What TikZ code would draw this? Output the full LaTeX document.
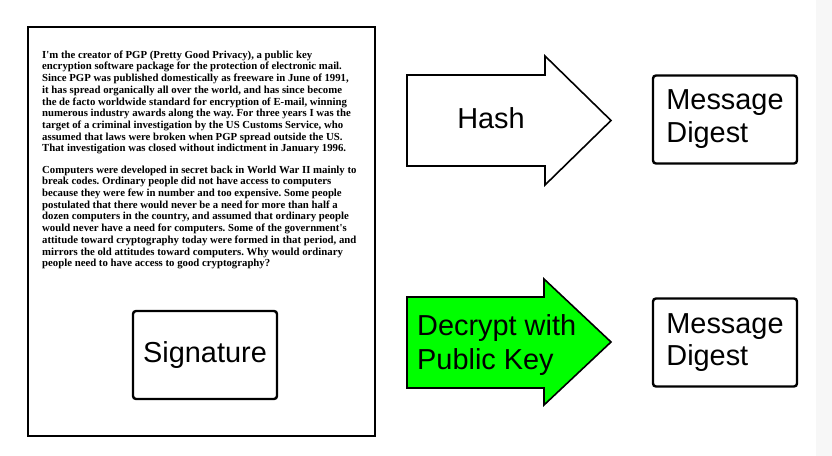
\documentclass[tikz,border=0pt]{standalone}
\usepackage{fontspec}
\setmainfont{Liberation Sans}
\newfontfamily\pagefont{Liberation Serif}
\usepackage{tikz}

\definecolor{brightgreen}{RGB}{0,255,0}

\begin{document}
\frenchspacing
\begin{tikzpicture}[x=1bp,y=-1bp]
\useasboundingbox (0,0) rectangle (832,456);
\fill[gray!6] (816,0) rectangle (832,456);
%the signed page
\draw[line width=1.6bp] (28,27) rectangle (375,436);
 \begin{scope}[every node/.style={anchor=north west,inner sep=0pt,align=left,font=\pagefont\bfseries\fontsize{10.8}{11.75}\selectfont}]
    \node (p1) at (42,50.5) {I'm the creator of PGP (Pretty Good Privacy), a public key\\
encryption software package for the protection of electronic mail.\\
Since PGP was published domestically as freeware in June of 1991,\\
it has spread organically all over the world, and has since become\\
the de facto worldwide standard for encryption of E-mail, winning\\
numerous industry awards along the way. For three years I was the\\
target of a criminal investigation by the US Customs Service, who\\
assumed that laws were broken when PGP spread outside the US.\\
That investigation was closed without indictment in January 1996.};
    \node (p2) at (42,165.5) {Computers were developed in secret back in World War II mainly to\\
break codes. Ordinary people did not have access to computers\\
because they were few in number and too expensive. Some people\\
postulated that there would never be a need for more than half a\\
dozen computers in the country, and assumed that ordinary people\\
would never have a need for computers. Some of the government's\\
attitude toward cryptography today were formed in that period, and\\
mirrors the old attitudes toward computers. Why would ordinary\\
people need to have access to good cryptography?};
 \end{scope}
 \begin{scope}[every node/.style={draw=black,line width=2.4bp,rounded corners=3bp,fill=white,minimum width=144bp,minimum height=88bp,align=left,font=\fontsize{29}{33}\selectfont}]
    \node (sig) at (205,355) {Signature};
    \node (md1) at (725,119.5) {Message\\Digest};
    \node (md2) at (725,342.5) {Message\\Digest};
 \end{scope}
%the two big arrows
 \begin{scope}[line width=1.6bp,line join=miter]
   \draw[fill=white] (407,75) -- (545,75) -- (545,56) -- (611,120.5) -- (545,185) -- (545,166) -- (407,166) -- cycle;
   \draw[fill=brightgreen] (407,297) -- (544,297) -- (544,279) -- (611,342) -- (544,405) -- (544,388) -- (407,388) -- cycle;
 \end{scope}
 \begin{scope}[every node/.style={inner sep=0pt,align=left,font=\fontsize{29}{35}\selectfont}]
    \node (hash) at (491,118) {Hash};
    \node (decrypt) [anchor=west] at (417,345) {Decrypt with\\Public Key};
 \end{scope}
\end{tikzpicture}
\end{document}
